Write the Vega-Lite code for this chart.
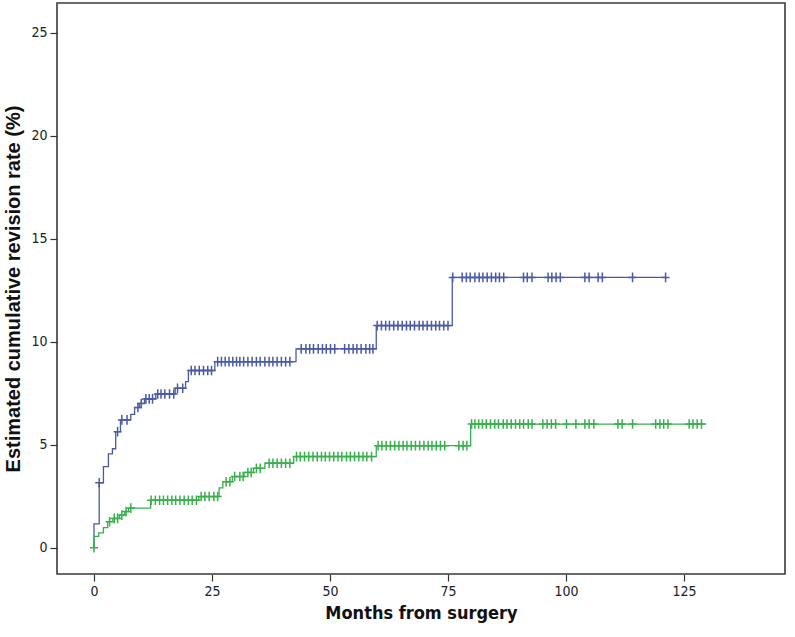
{
  "$schema": "https://vega.github.io/schema/vega-lite/v6.json",
  "width": 728,
  "height": 571,
  "autosize": "none",
  "padding": {"left": 57, "top": 3, "right": 10, "bottom": 63},
  "background": "white",
  "config": {
    "view": {"stroke": "#3a3a3a", "strokeWidth": 1.6},
    "axis": {
      "grid": false,
      "domain": false,
      "tickColor": "#333",
      "tickSize": 7,
      "tickWidth": 1.2,
      "labelColor": "#222",
      "labelFontSize": 14,
      "labelFont": "Liberation Sans Narrow, DejaVu Sans Condensed, Liberation Sans",
      "titleColor": "#111",
      "titleFontWeight": "bold"
    }
  },
  "datasets": {
    "steps": [
      {"g":"A","k":0,"t":0,"y":0},{"g":"A","k":1,"t":0,"y":1.15},{"g":"A","k":2,"t":1.1,"y":3.15},{"g":"A","k":3,"t":2.0,"y":3.93},{"g":"A","k":4,"t":3.05,"y":4.55},{"g":"A","k":5,"t":3.9,"y":4.8},{"g":"A","k":6,"t":4.6,"y":5.63},{"g":"A","k":7,"t":5.6,"y":6.2},{"g":"A","k":8,"t":7.8,"y":6.47},{"g":"A","k":9,"t":8.6,"y":6.8},{"g":"A","k":10,"t":9.6,"y":7.0},{"g":"A","k":11,"t":10.7,"y":7.22},{"g":"A","k":12,"t":13.1,"y":7.46},{"g":"A","k":13,"t":17.2,"y":7.74},{"g":"A","k":14,"t":19.4,"y":8.06},{"g":"A","k":15,"t":20.0,"y":8.6},{"g":"A","k":16,"t":25.6,"y":9.03},{"g":"A","k":17,"t":42.8,"y":9.65},{"g":"A","k":18,"t":59.8,"y":10.78},{"g":"A","k":19,"t":75.9,"y":13.12},{"g":"A","k":20,"t":121.2,"y":13.12},
      {"g":"B","k":0,"t":0,"y":0},{"g":"B","k":1,"t":0,"y":0.55},{"g":"B","k":2,"t":1.0,"y":0.72},{"g":"B","k":3,"t":2.0,"y":0.97},{"g":"B","k":4,"t":2.9,"y":1.26},{"g":"B","k":5,"t":4.0,"y":1.42},{"g":"B","k":6,"t":5.4,"y":1.58},{"g":"B","k":7,"t":6.5,"y":1.75},{"g":"B","k":8,"t":7.3,"y":1.92},{"g":"B","k":9,"t":12.0,"y":2.3},{"g":"B","k":10,"t":22.2,"y":2.48},{"g":"B","k":11,"t":26.5,"y":2.9},{"g":"B","k":12,"t":27.3,"y":3.2},{"g":"B","k":13,"t":29.3,"y":3.45},{"g":"B","k":14,"t":31.8,"y":3.65},{"g":"B","k":15,"t":33.8,"y":3.85},{"g":"B","k":16,"t":36.2,"y":4.1},{"g":"B","k":17,"t":42.3,"y":4.42},{"g":"B","k":18,"t":59.8,"y":4.95},{"g":"B","k":19,"t":79.8,"y":6.0},{"g":"B","k":20,"t":129.7,"y":6.0}
    ],
    "censor": [
      {"g":"A","t":1.1,"y":3.15},{"g":"A","t":5.0,"y":5.63},{"g":"A","t":5.9,"y":6.2},{"g":"A","t":7.0,"y":6.2},{"g":"A","t":9.3,"y":6.8},{"g":"A","t":10.0,"y":7.0},{"g":"A","t":11.0,"y":7.22},{"g":"A","t":11.7,"y":7.22},{"g":"A","t":12.4,"y":7.22},{"g":"A","t":13.5,"y":7.46},{"g":"A","t":14.2,"y":7.46},{"g":"A","t":15.0,"y":7.46},{"g":"A","t":16.0,"y":7.46},{"g":"A","t":16.9,"y":7.46},{"g":"A","t":17.7,"y":7.74},{"g":"A","t":18.8,"y":7.74},
      {"g":"A","t":20.6,"y":8.6},{"g":"A","t":21.4,"y":8.6},{"g":"A","t":22.3,"y":8.6},{"g":"A","t":23.2,"y":8.6},{"g":"A","t":24.1,"y":8.6},{"g":"A","t":24.9,"y":8.6},
      {"g":"A","t":26.2,"y":9.03},{"g":"A","t":27.0,"y":9.03},{"g":"A","t":27.8,"y":9.03},{"g":"A","t":28.6,"y":9.03},{"g":"A","t":29.4,"y":9.03},{"g":"A","t":30.2,"y":9.03},{"g":"A","t":30.9,"y":9.03},{"g":"A","t":31.7,"y":9.03},{"g":"A","t":32.6,"y":9.03},{"g":"A","t":33.5,"y":9.03},{"g":"A","t":34.4,"y":9.03},{"g":"A","t":35.2,"y":9.03},{"g":"A","t":36.2,"y":9.03},{"g":"A","t":37.1,"y":9.03},{"g":"A","t":37.9,"y":9.03},{"g":"A","t":38.8,"y":9.03},{"g":"A","t":39.7,"y":9.03},{"g":"A","t":40.6,"y":9.03},{"g":"A","t":41.5,"y":9.03},
      {"g":"A","t":43.9,"y":9.65},{"g":"A","t":44.9,"y":9.65},{"g":"A","t":45.7,"y":9.65},{"g":"A","t":46.5,"y":9.65},{"g":"A","t":47.5,"y":9.65},{"g":"A","t":48.4,"y":9.65},{"g":"A","t":49.2,"y":9.65},{"g":"A","t":50.1,"y":9.65},{"g":"A","t":51.0,"y":9.65},{"g":"A","t":53.1,"y":9.65},{"g":"A","t":54.0,"y":9.65},{"g":"A","t":54.9,"y":9.65},{"g":"A","t":55.7,"y":9.65},{"g":"A","t":56.6,"y":9.65},{"g":"A","t":57.6,"y":9.65},{"g":"A","t":58.4,"y":9.65},{"g":"A","t":59.1,"y":9.65},
      {"g":"A","t":60.0,"y":10.78},{"g":"A","t":60.9,"y":10.78},{"g":"A","t":61.8,"y":10.78},{"g":"A","t":62.6,"y":10.78},{"g":"A","t":63.5,"y":10.78},{"g":"A","t":64.4,"y":10.78},{"g":"A","t":65.3,"y":10.78},{"g":"A","t":66.2,"y":10.78},{"g":"A","t":67.0,"y":10.78},{"g":"A","t":67.9,"y":10.78},{"g":"A","t":68.9,"y":10.78},{"g":"A","t":69.7,"y":10.78},{"g":"A","t":70.6,"y":10.78},{"g":"A","t":71.5,"y":10.78},{"g":"A","t":72.4,"y":10.78},{"g":"A","t":73.2,"y":10.78},{"g":"A","t":74.1,"y":10.78},{"g":"A","t":75.0,"y":10.78},
      {"g":"A","t":76.0,"y":13.12},{"g":"A","t":78.0,"y":13.12},{"g":"A","t":78.9,"y":13.12},{"g":"A","t":79.7,"y":13.12},{"g":"A","t":80.7,"y":13.12},{"g":"A","t":81.6,"y":13.12},{"g":"A","t":82.4,"y":13.12},{"g":"A","t":83.3,"y":13.12},{"g":"A","t":84.2,"y":13.12},{"g":"A","t":85.1,"y":13.12},{"g":"A","t":85.9,"y":13.12},{"g":"A","t":86.8,"y":13.12},{"g":"A","t":91.0,"y":13.12},{"g":"A","t":91.8,"y":13.12},{"g":"A","t":92.8,"y":13.12},{"g":"A","t":96.2,"y":13.12},{"g":"A","t":97.0,"y":13.12},{"g":"A","t":97.9,"y":13.12},{"g":"A","t":98.8,"y":13.12},{"g":"A","t":104.0,"y":13.12},{"g":"A","t":104.9,"y":13.12},{"g":"A","t":106.8,"y":13.12},{"g":"A","t":107.7,"y":13.12},{"g":"A","t":114.1,"y":13.12},{"g":"A","t":121.1,"y":13.12},
      {"g":"B","t":0,"y":0},{"g":"B","t":3.3,"y":1.26},{"g":"B","t":4.3,"y":1.42},{"g":"B","t":5.0,"y":1.42},{"g":"B","t":5.9,"y":1.58},{"g":"B","t":6.8,"y":1.75},{"g":"B","t":7.8,"y":1.92},
      {"g":"B","t":12.1,"y":2.3},{"g":"B","t":13.0,"y":2.3},{"g":"B","t":13.9,"y":2.3},{"g":"B","t":14.7,"y":2.3},{"g":"B","t":15.6,"y":2.3},{"g":"B","t":16.5,"y":2.3},{"g":"B","t":17.3,"y":2.3},{"g":"B","t":18.2,"y":2.3},{"g":"B","t":19.1,"y":2.3},{"g":"B","t":20.0,"y":2.3},{"g":"B","t":20.8,"y":2.3},{"g":"B","t":21.7,"y":2.3},
      {"g":"B","t":22.7,"y":2.48},{"g":"B","t":23.5,"y":2.48},{"g":"B","t":24.4,"y":2.48},{"g":"B","t":25.4,"y":2.48},{"g":"B","t":26.2,"y":2.48},
      {"g":"B","t":28.0,"y":3.2},{"g":"B","t":28.8,"y":3.2},{"g":"B","t":29.8,"y":3.45},{"g":"B","t":30.9,"y":3.45},{"g":"B","t":31.6,"y":3.45},{"g":"B","t":32.6,"y":3.65},{"g":"B","t":33.3,"y":3.65},{"g":"B","t":34.4,"y":3.85},{"g":"B","t":35.2,"y":3.85},
      {"g":"B","t":37.1,"y":4.1},{"g":"B","t":37.9,"y":4.1},{"g":"B","t":38.8,"y":4.1},{"g":"B","t":39.7,"y":4.1},{"g":"B","t":40.6,"y":4.1},{"g":"B","t":41.5,"y":4.1},
      {"g":"B","t":42.9,"y":4.42},{"g":"B","t":43.7,"y":4.42},{"g":"B","t":44.6,"y":4.42},{"g":"B","t":45.5,"y":4.42},{"g":"B","t":46.4,"y":4.42},{"g":"B","t":47.3,"y":4.42},{"g":"B","t":48.2,"y":4.42},{"g":"B","t":49.0,"y":4.42},{"g":"B","t":49.9,"y":4.42},{"g":"B","t":50.8,"y":4.42},{"g":"B","t":51.7,"y":4.42},{"g":"B","t":52.5,"y":4.42},{"g":"B","t":53.5,"y":4.42},{"g":"B","t":54.3,"y":4.42},{"g":"B","t":55.2,"y":4.42},{"g":"B","t":56.1,"y":4.42},{"g":"B","t":57.0,"y":4.42},{"g":"B","t":57.8,"y":4.42},{"g":"B","t":58.8,"y":4.42},
      {"g":"B","t":60.2,"y":4.95},{"g":"B","t":61.0,"y":4.95},{"g":"B","t":61.9,"y":4.95},{"g":"B","t":62.8,"y":4.95},{"g":"B","t":63.7,"y":4.95},{"g":"B","t":64.6,"y":4.95},{"g":"B","t":65.5,"y":4.95},{"g":"B","t":66.3,"y":4.95},{"g":"B","t":67.2,"y":4.95},{"g":"B","t":68.1,"y":4.95},{"g":"B","t":69.0,"y":4.95},{"g":"B","t":69.9,"y":4.95},{"g":"B","t":70.8,"y":4.95},{"g":"B","t":71.6,"y":4.95},{"g":"B","t":72.5,"y":4.95},{"g":"B","t":73.4,"y":4.95},{"g":"B","t":74.3,"y":4.95},{"g":"B","t":77.3,"y":4.95},{"g":"B","t":78.2,"y":4.95},{"g":"B","t":79.0,"y":4.95},
      {"g":"B","t":80.0,"y":6.0},{"g":"B","t":80.7,"y":6.0},{"g":"B","t":81.5,"y":6.0},{"g":"B","t":82.3,"y":6.0},{"g":"B","t":83.1,"y":6.0},{"g":"B","t":84.0,"y":6.0},{"g":"B","t":84.9,"y":6.0},{"g":"B","t":85.7,"y":6.0},{"g":"B","t":86.7,"y":6.0},{"g":"B","t":87.5,"y":6.0},{"g":"B","t":88.4,"y":6.0},{"g":"B","t":89.3,"y":6.0},{"g":"B","t":90.2,"y":6.0},{"g":"B","t":91.0,"y":6.0},{"g":"B","t":92.0,"y":6.0},{"g":"B","t":92.8,"y":6.0},{"g":"B","t":95.1,"y":6.0},{"g":"B","t":96.0,"y":6.0},{"g":"B","t":96.9,"y":6.0},{"g":"B","t":97.8,"y":6.0},{"g":"B","t":100.1,"y":6.0},{"g":"B","t":102.1,"y":6.0},{"g":"B","t":104.0,"y":6.0},{"g":"B","t":104.9,"y":6.0},{"g":"B","t":105.9,"y":6.0},{"g":"B","t":111.0,"y":6.0},{"g":"B","t":111.9,"y":6.0},{"g":"B","t":114.1,"y":6.0},{"g":"B","t":119.0,"y":6.0},{"g":"B","t":119.9,"y":6.0},{"g":"B","t":120.7,"y":6.0},{"g":"B","t":121.6,"y":6.0},{"g":"B","t":126.1,"y":6.0},{"g":"B","t":126.9,"y":6.0},{"g":"B","t":127.8,"y":6.0},{"g":"B","t":128.7,"y":6.0}
    ]
  },
  "layer": [
    {
      "data": {"name": "steps"},
      "mark": {"type": "line", "interpolate": "step-after", "strokeWidth": 1.3, "clip": true},
      "encoding": {
        "x": {"field": "t", "type": "quantitative", "scale": {"domain": [-7.84, 146.4], "nice": false, "zero": false},
              "axis": {"values": [0, 25, 50, 75, 100, 125], "title": "Months from surgery", "titleFontSize": 18, "titleFont": "Liberation Sans Narrow, DejaVu Sans Condensed, Liberation Sans", "labelPadding": 3, "titlePadding": 6}},
        "y": {"field": "y", "type": "quantitative", "scale": {"domain": [-1.28, 26.44], "nice": false, "zero": false},
              "axis": {"values": [0, 5, 10, 15, 20, 25], "title": "Estimated cumulative revision rate (%)", "titleFontSize": 20, "titleFont": "Liberation Sans, Arial", "labelPadding": 3, "titlePadding": 7}},
        "color": {"field": "g", "type": "nominal", "scale": {"domain": ["A", "B"], "range": ["#4a5aa8", "#38b04c"]}, "legend": null},
        "order": {"field": "k", "type": "quantitative"}
      }
    },
    {
      "data": {"name": "censor"},
      "mark": {"type": "point", "shape": "M-1,0L1,0M0,-1.2L0,1.2", "filled": false, "size": 64, "strokeWidth": 1.5, "opacity": 1},
      "encoding": {
        "x": {"field": "t", "type": "quantitative"},
        "y": {"field": "y", "type": "quantitative"},
        "color": {"field": "g", "type": "nominal", "scale": {"domain": ["A", "B"], "range": ["#3c4da0", "#2fa845"]}, "legend": null}
      }
    }
  ]
}
